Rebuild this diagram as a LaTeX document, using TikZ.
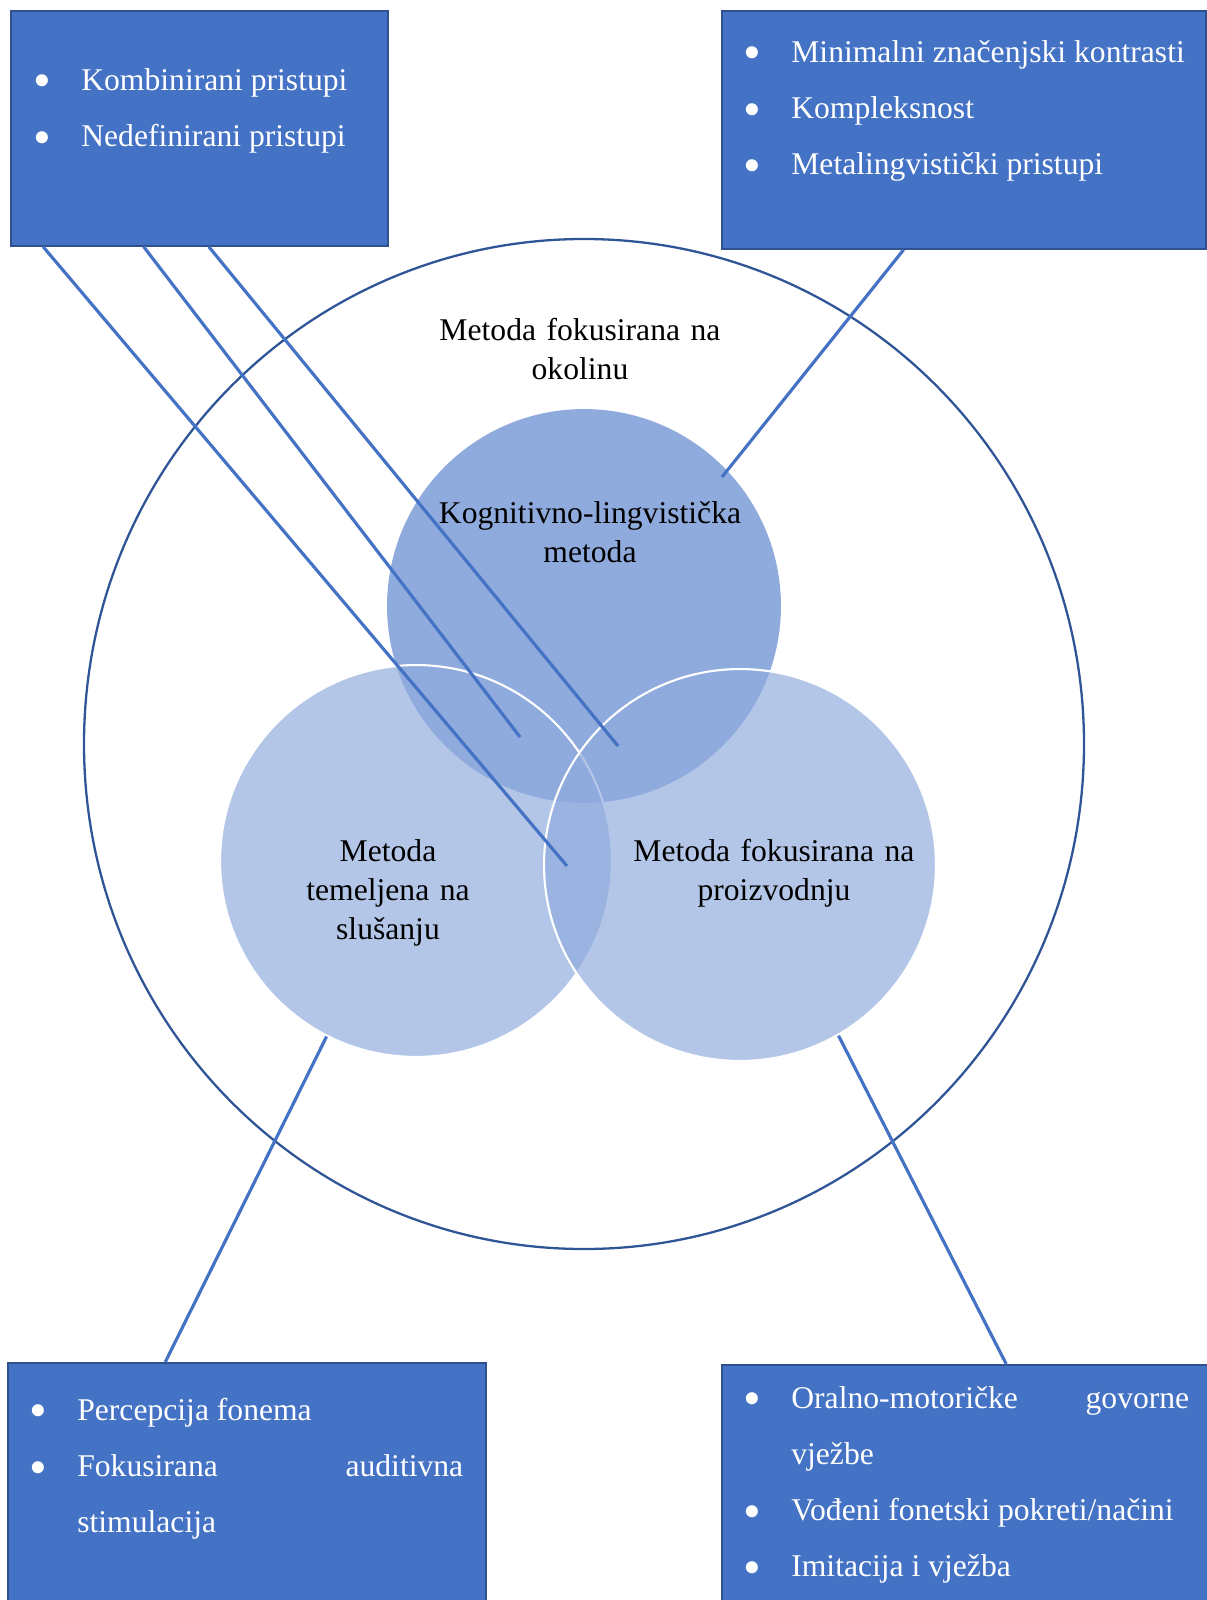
\documentclass[tikz,border=0pt]{standalone}
\usepackage{fontspec}
\usepackage{graphicx}
\setmainfont{Liberation Serif}
\usetikzlibrary{calc}
\definecolor{okvirplava}{RGB}{68,114,196}
\definecolor{okvirrub}{RGB}{47,82,143}
\definecolor{krugplava}{RGB}{143,170,220}
\definecolor{obrub}{RGB}{47,85,151}
\tolerance=10000
\hyphenpenalty=10000
\exhyphenpenalty=10000
\newcommand{\tockica}{\raisebox{-0.25em}{\scalebox{1.6}{\textbullet}}}
\newcommand{\stavka}[1]{\noindent\hangindent=0.96cm\hangafter=1\makebox[0.96cm][l]{\tockica}#1\par}

\begin{document}
\begin{tikzpicture}[x=0.02cm, y=-0.02cm,
    okvir/.style={draw=okvirrub, line width=1pt, fill=okvirplava, inner sep=0pt, anchor=north west},
    popis/.style={text=white, inner sep=0pt, anchor=base west, align=justify, font=\fontsize{18pt}{32pt}\selectfont},
    krug/.style={circle, inner sep=0pt, fill=krugplava},
    natpis/.style={inner sep=0pt, anchor=base, text width=9cm, align=center, font=\fontsize{18pt}{22.2pt}\selectfont},
    veza/.style={draw=okvirplava, line width=1.8pt}]
  \path[use as bounding box] (0,0) rectangle (1207,1600);
  \clip (0,0) rectangle (1207,1600);

  % vanjski krug
  \draw[obrub, line width=1.3pt] (584,744) ellipse [x radius=500, y radius=505];

  % tri kruga
  \node[krug, minimum size=7.88cm] (kog) at (584,606) {};
  \node[krug, minimum size=7.84cm, fill opacity=0.67, draw=white, line width=1.2pt] (slus) at (416,861) {};
  \node[krug, minimum size=7.84cm, fill opacity=0.67, draw=white, line width=1.2pt] (proiz) at (740,865) {};

  % okviri s popisima
  \node[okvir, minimum width=7.54cm, minimum height=4.7cm] (kombi) at (10,10) {};
  \node[okvir, minimum width=9.68cm, minimum height=4.76cm] (minim) at (721,10) {};
  \node[okvir, minimum width=9.56cm, minimum height=5.2cm] (perc) at (7,1362) {};
  \node[okvir, minimum width=10.3cm, minimum height=5.2cm] (oral) at (721,1364) {};

  \node[popis, text width=7cm] (kombit) at (33,90)
    {\stavka{Kombinirani pristupi}\stavka{Nedefinirani pristupi}};
  \node[popis, text width=8.94cm] (minimt) at (743,62)
    {\stavka{Minimalni značenjski kontrasti}\stavka{Kompleksnost}\stavka{Metalingvistički pristupi}};
  \node[popis, text width=8.68cm] (perct) at (29,1420)
    {\stavka{Percepcija fonema}\stavka{Fokusirana auditivna stimulacija}};
  \node[popis, text width=8.92cm] (oralt) at (743,1408)
    {\stavka{Oralno-motoričke govorne vježbe}\stavka{Vođeni fonetski pokreti/načini}\stavka{Imitacija i vježba}};

  % veze
  \coordinate (kpk1) at (567,866);
  \coordinate (kpk2) at (520,737);
  \coordinate (kpk3) at (618,746);
  \coordinate (kogkraj) at (722,477);
  \draw[veza] ($(kombi.south west)!0.0875!(kombi.south east)$) -- (kpk1);
  \draw[veza] ($(kombi.south west)!0.353!(kombi.south east)$) -- (kpk2);
  \draw[veza] ($(kombi.south west)!0.525!(kombi.south east)$) -- (kpk3);
  \draw[veza] ($(minim.south west)!0.376!(minim.south east)$) -- (kogkraj);
  \draw[veza] ($(perc.north west)!0.33!(perc.north east)$) -- (slus.243);
  \draw[veza] ($(oral.north west)!0.552!(oral.north east)$) -- (proiz.300);

  % natpisi
  \node[natpis] (okol) at (580,340) {Metoda fokusirana na\\okolinu};
  \node[natpis] (kogt) at (590,523) {Kognitivno-lingvistička\\metoda};
  \node[natpis] (slust) at (388,861) {Metoda\\temeljena na\\slušanju};
  \node[natpis] (proizt) at (774,861) {Metoda fokusirana na\\proizvodnju};
\end{tikzpicture}
\end{document}
